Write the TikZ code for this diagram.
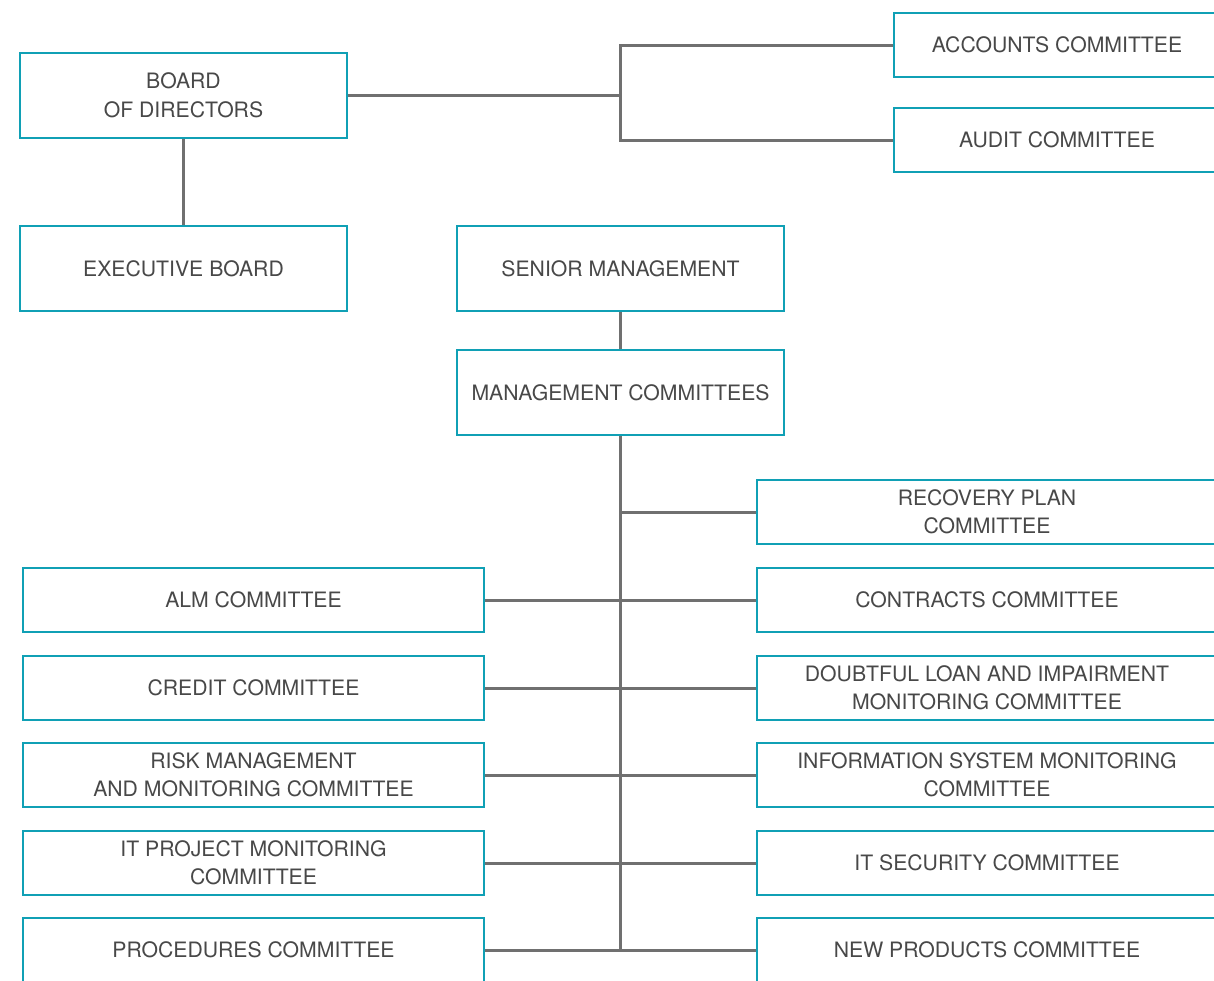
\documentclass[tikz,border=0pt]{standalone}
\usepackage{fontspec}
\setmainfont{TeX Gyre Heros}
\definecolor{teal}{RGB}{16,160,181}
\definecolor{txt}{RGB}{72,72,72}
\definecolor{conn}{RGB}{112,112,112}
\begin{document}
\begin{tikzpicture}[x=1pt,y=-1pt,
  box/.style={draw=teal,line width=2.8pt,fill=white,rectangle,inner sep=0pt,align=center,
    text=txt,font=\fontsize{21.2}{28.5}\selectfont},
  wbox/.style={box,minimum width=327pt,minimum height=85pt},
  lbox/.style={box,minimum width=461pt,minimum height=64pt},
  rbox/.style={box,minimum width=460pt,minimum height=64pt},
  tbox/.style={box,minimum width=326pt,minimum height=64pt},
  link/.style={draw=conn,line width=3pt}]
\useasboundingbox (0,0) rectangle (1214,980);
\fill[white] (0,0) rectangle (1214,980);
\clip (0,0) rectangle (1214,980);
% top-level
\node[wbox] (bod) at (183.5,95.5) {BOARD\\OF DIRECTORS};
\node[wbox] (exb) at (183.5,268.5) {EXECUTIVE BOARD};
\node[wbox] (sm)  at (620.5,268.5) {SENIOR MANAGEMENT};
\node[wbox] (mc)  at (620.5,392.5) {MANAGEMENT COMMITTEES};
\node[tbox] (acc) at (1057,45) {ACCOUNTS COMMITTEE};
\node[tbox] (aud) at (1057,140) {AUDIT COMMITTEE};
% right column
\node[rbox] (rec) at (987,512) {RECOVERY PLAN\\COMMITTEE};
\node[rbox] (con) at (987,600) {CONTRACTS COMMITTEE};
\node[rbox] (dou) at (987,688) {DOUBTFUL LOAN AND IMPAIRMENT\\MONITORING COMMITTEE};
\node[rbox] (inf) at (987,775) {INFORMATION SYSTEM MONITORING\\COMMITTEE};
\node[rbox] (its) at (987,863) {IT SECURITY COMMITTEE};
\node[rbox] (npc) at (987,950) {NEW PRODUCTS COMMITTEE};
% left column
\node[lbox] (alm) at (253.5,600) {ALM COMMITTEE};
\node[lbox] (cre) at (253.5,688) {CREDIT COMMITTEE};
\node[lbox] (rsk) at (253.5,775) {RISK MANAGEMENT\\AND MONITORING COMMITTEE};
\node[lbox] (itp) at (253.5,863) {IT PROJECT MONITORING\\COMMITTEE};
\node[lbox] (pro) at (253.5,950) {PROCEDURES COMMITTEE};
% connectors
\coordinate (j1) at (620,95.5);
\draw[link] (bod.east) -- (j1);
\draw[link] (acc.west) -| (j1) |- (aud.west);
\draw[link] (bod.south) -- (exb.north);
\draw[link] (sm.south) -- (mc.north);
\draw[link] (mc.south) -- (mc.south |- pro.east);
\draw[link] (mc.south |- rec.west) -- (rec.west);
\draw[link] (alm.east) -- (con.west);
\draw[link] (cre.east) -- (dou.west);
\draw[link] (rsk.east) -- (inf.west);
\draw[link] (itp.east) -- (its.west);
\draw[link] (pro.east) -- (npc.west);
\end{tikzpicture}
\end{document}
